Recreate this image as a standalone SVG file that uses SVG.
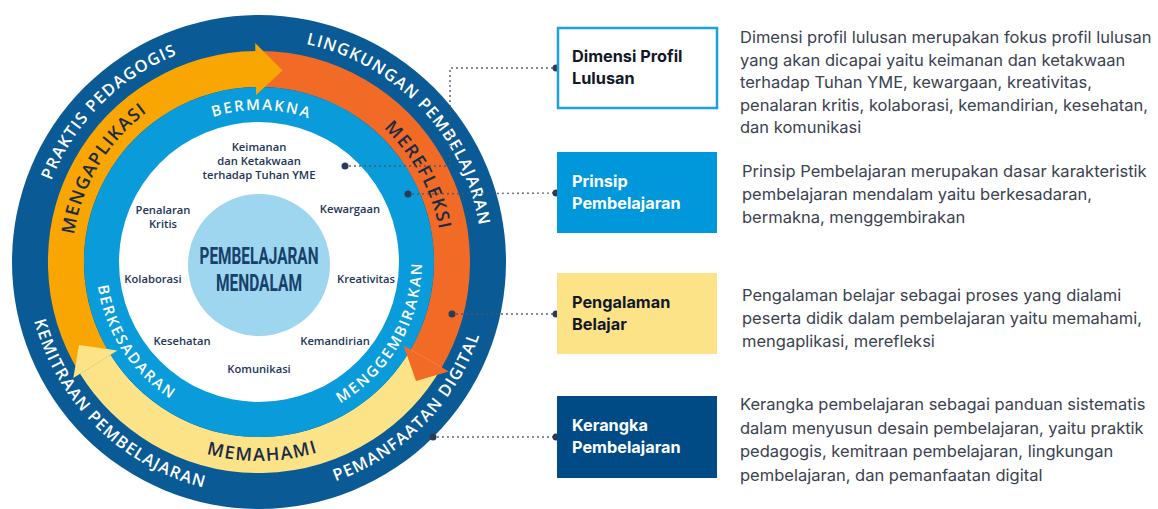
<svg xmlns="http://www.w3.org/2000/svg" width="1158" height="509" viewBox="0 0 1158 509">
<defs>
<style>
.ring-dark { font-family: "Open Sans", "Liberation Sans", sans-serif; font-weight: 600; font-size: 16.5px; letter-spacing: 1.2px; fill: #ffffff; }
.ring-mid { font-family: "Open Sans", "Liberation Sans", sans-serif; font-weight: 600; font-size: 18px; letter-spacing: 1.4px; fill: #1b2a45; }
.ring-blue { font-family: "Open Sans", "Liberation Sans", sans-serif; font-weight: 600; font-size: 15px; letter-spacing: 2px; fill: #ffffff; }
.inner { font-family: "Open Sans", "Liberation Sans", sans-serif; font-weight: 600; font-size: 11.2px; fill: #1d3557; text-anchor: middle; }
.center { font-family: Roboto, "Liberation Sans", sans-serif; font-weight: 700; font-size: 23px; fill: #17406b; text-anchor: middle; }
.box-title { font-family: Inter, "Liberation Sans", sans-serif; font-weight: 700; font-size: 16.3px; }
.desc { font-family: Inter, "Liberation Sans", sans-serif; font-size: 16.5px; fill: #3b4250; }
.conn { fill: none; stroke: #4a5568; stroke-width: 1.8; stroke-dasharray: 0 5; stroke-linecap: round; }
.dot { fill: #2b3a55; }
</style>
<path id="p-praktis" d="M101.3,419.7 A223,223 0 0 1 416.7,104.3"/>
<path id="p-lingkungan" d="M105.5,100.2 A223,223 0 0 1 412.5,423.8"/>
<path id="p-pemanfaatan" d="M94.3,429.6 A235,235 0 0 0 423.7,94.4"/>
<path id="p-kemitraan" d="M91.4,97.3 A235,235 0 0 0 426.6,426.7"/>
<path id="p-mengaplikasi" d="M162.7,422.3 A187,187 0 0 1 355.3,101.7"/>
<path id="p-merefleksi" d="M169.8,97.7 A187,187 0 0 1 348.2,426.3"/>
<path id="p-memahami" d="M60,265.5 A199,199 0 0 0 458,258.5"/>
<path id="p-bermakna" d="M107,259.3 A152,152 0 0 1 411,264.7"/>
<path id="p-berkesadaran" d="M170.2,125.3 A163,163 0 0 0 347.8,398.7"/>
<path id="p-menggembirakan" d="M177.5,403.2 A163,163 0 0 0 340.5,120.8"/>
</defs>
<rect width="1158" height="509" fill="#ffffff"/>

<g id="kerangka-ring">
<circle cx="259" cy="262" r="247" fill="#0a5a96"/>
<text class="ring-dark"><textPath href="#p-praktis" startOffset="50%" text-anchor="middle">PRAKTIS PEDAGOGIS</textPath></text>
<text class="ring-dark"><textPath href="#p-lingkungan" startOffset="50%" text-anchor="middle">LINGKUNGAN PEMBELAJARAN</textPath></text>
<text class="ring-dark"><textPath href="#p-pemanfaatan" startOffset="50%" text-anchor="middle">PEMANFAATAN DIGITAL</textPath></text>
<text class="ring-dark"><textPath href="#p-kemitraan" startOffset="50%" text-anchor="middle">KEMITRAAN PEMBELAJARAN</textPath></text>
</g>

<g id="pengalaman-ring">
<path d="M95.3,364.3 A193,193 0 0 1 259,69" fill="none" stroke="#f9a602" stroke-width="36"/>
<path d="M259,69 A193,193 0 0 1 424.4,361.4" fill="none" stroke="#f26b26" stroke-width="36"/>
<path d="M426.1,358.5 A193,193 0 0 1 95.3,364.3" fill="none" stroke="#fde387" stroke-width="36"/>
</g>

<g id="prinsip-ring">
<circle cx="259" cy="262" r="175" fill="#0a9cda"/>
<circle cx="259" cy="262" r="140" fill="#ffffff"/>
<text class="ring-blue"><textPath href="#p-bermakna" startOffset="50%" text-anchor="middle">BERMAKNA</textPath></text>
<text class="ring-blue"><textPath href="#p-berkesadaran" startOffset="50%" text-anchor="middle">BERKESADARAN</textPath></text>
<text class="ring-blue"><textPath href="#p-menggembirakan" startOffset="50%" text-anchor="middle">MENGGEMBIRAKAN</textPath></text>
</g>

<g id="pengalaman-arrows">
<polygon points="255.2,43 256.1,95 282.5,70.4" fill="#f9a602"/>
<polygon points="403.6,345.5 448.7,371.5 416,381" fill="#f26b26"/>
<polygon points="117.4,350.5 73.3,378 79,345" fill="#fde387"/>
<text class="ring-mid"><textPath href="#p-mengaplikasi" startOffset="50%" text-anchor="middle">MENGAPLIKASI</textPath></text>
<text class="ring-mid"><textPath href="#p-merefleksi" startOffset="50%" text-anchor="middle">MEREFLEKSI</textPath></text>
<text class="ring-mid"><textPath href="#p-memahami" startOffset="50%" text-anchor="middle">MEMAHAMI</textPath></text>
</g>

<g id="profil-lulusan">
<text class="inner" x="259" y="151">Keimanan</text>
<text class="inner" x="259" y="165">dan Ketakwaan</text>
<text class="inner" x="259" y="179">terhadap Tuhan YME</text>
<text class="inner" x="163" y="214">Penalaran</text>
<text class="inner" x="163" y="228">Kritis</text>
<text class="inner" x="350" y="213">Kewargaan</text>
<text class="inner" x="153" y="283">Kolaborasi</text>
<text class="inner" x="366" y="283">Kreativitas</text>
<text class="inner" x="182" y="345">Kesehatan</text>
<text class="inner" x="335" y="345">Kemandirian</text>
<text class="inner" x="259" y="373">Komunikasi</text>
</g>

<g id="pembelajaran-mendalam">
<circle cx="259" cy="265" r="71" fill="#9dd6ee"/>
<text class="center" x="259" y="264" textLength="119" lengthAdjust="spacingAndGlyphs">PEMBELAJARAN</text>
<text class="center" x="259" y="291" textLength="86" lengthAdjust="spacingAndGlyphs">MENDALAM</text>
</g>

<g id="connectors">
<path class="conn" d="M345,166 H450 V68 H556"/>
<path class="conn" d="M408,194 L556,193"/>
<path class="conn" d="M452,314 H556"/>
<path class="conn" d="M433,437 H556"/>
<circle class="dot" cx="345" cy="166" r="3.5"/>
<circle class="dot" cx="556" cy="68" r="3.5"/>
<circle class="dot" cx="408" cy="194" r="3.5"/>
<circle class="dot" cx="556" cy="193" r="3.5"/>
<circle class="dot" cx="452" cy="314" r="3.5"/>
<circle class="dot" cx="556" cy="314" r="3.5"/>
<circle class="dot" cx="433" cy="437" r="3.5"/>
<circle class="dot" cx="556" cy="437" r="3.5"/>
</g>

<g id="box-dimensi-profil">
<rect x="558" y="28" width="159" height="80" fill="#ffffff" stroke="#1ba1e2" stroke-width="2.5"/>
<text class="box-title" x="572" y="62" fill="#111827">Dimensi Profil</text>
<text class="box-title" x="572" y="84" fill="#111827">Lulusan</text>
<text class="desc" x="740" y="43">Dimensi profil lulusan merupakan fokus profil lulusan</text>
<text class="desc" x="740" y="65.5">yang akan dicapai yaitu keimanan dan ketakwaan</text>
<text class="desc" x="740" y="88">terhadap Tuhan YME, kewargaan, kreativitas,</text>
<text class="desc" x="740" y="110.5">penalaran kritis, kolaborasi, kemandirian, kesehatan,</text>
<text class="desc" x="740" y="133">dan komunikasi</text>
</g>

<g id="box-prinsip">
<rect x="557" y="152" width="160" height="81" fill="#0098da"/>
<text class="box-title" x="572" y="187" fill="#ffffff">Prinsip</text>
<text class="box-title" x="572" y="209" fill="#ffffff">Pembelajaran</text>
<text class="desc" x="742" y="177">Prinsip Pembelajaran merupakan dasar karakteristik</text>
<text class="desc" x="742" y="200">pembelajaran mendalam yaitu berkesadaran,</text>
<text class="desc" x="742" y="223">bermakna, menggembirakan</text>
</g>

<g id="box-pengalaman">
<rect x="557" y="273" width="160" height="81" fill="#fde387"/>
<text class="box-title" x="572" y="308" fill="#111827">Pengalaman</text>
<text class="box-title" x="572" y="330" fill="#111827">Belajar</text>
<text class="desc" x="742" y="301">Pengalaman belajar sebagai proses yang dialami</text>
<text class="desc" x="742" y="324">peserta didik dalam pembelajaran yaitu memahami,</text>
<text class="desc" x="742" y="347">mengaplikasi, merefleksi</text>
</g>

<g id="box-kerangka">
<rect x="557" y="396" width="160" height="82" fill="#004b85"/>
<text class="box-title" x="572" y="431" fill="#ffffff">Kerangka</text>
<text class="box-title" x="572" y="453" fill="#ffffff">Pembelajaran</text>
<text class="desc" x="740" y="410">Kerangka pembelajaran sebagai panduan sistematis</text>
<text class="desc" x="740" y="433.5">dalam menyusun desain pembelajaran, yaitu praktik</text>
<text class="desc" x="740" y="457">pedagogis, kemitraan pembelajaran, lingkungan</text>
<text class="desc" x="740" y="480.5">pembelajaran, dan pemanfaatan digital</text>
</g>
</svg>
